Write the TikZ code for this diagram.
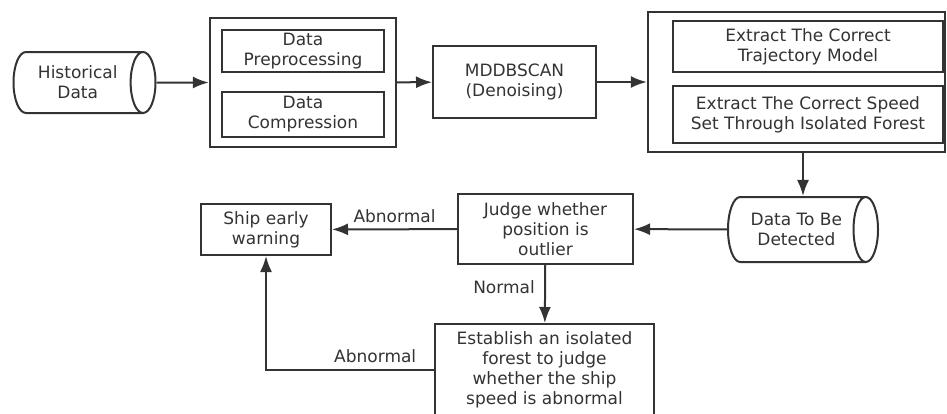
\documentclass[tikz,border=0pt]{standalone}
\usepackage{fontspec}
\setmainfont{DejaVu Sans}
\usetikzlibrary{shapes.geometric,arrows.meta}

\definecolor{inkgray}{HTML}{333333}
\tikzstyle{box}=[draw=inkgray,line width=2pt,align=center,text=inkgray,inner sep=0pt]
\tikzstyle{outer box}=[draw=inkgray,line width=2.4pt,inner sep=0pt]
\tikzstyle{store}=[cylinder,anchor=shape center,draw=inkgray,line width=2pt,align=center,text=inkgray,aspect=0.75,inner sep=0pt]
\tikzstyle{edge}=[draw=inkgray,line width=2pt,-{Latex[length=16pt,width=12pt]}]
\tikzstyle{tag}=[text=inkgray]

\begin{document}
\begin{tikzpicture}[x=1pt,y=-1pt,font=\fontsize{17pt}{20pt}\selectfont]
\useasboundingbox[fill=white] (0,0) rectangle (947,413);
% the two grouping frames
\node[outer box,minimum width=186pt,minimum height=129pt] (prep) at (303,82.5) {};
\node[outer box,minimum width=297pt,minimum height=140pt] (ext) at (796.5,82) {};
% plain boxes
\foreach \pos/\name/\bw/\bh/\txt in {{(303,51)/pre/162/42/{Data\\Preprocessing}},
    {(303,114.5)/comp/162/45/{Data\\Compression}},
    {(514.5,82)/mdd/163/72/{MDDBSCAN\\(Denoising)}},
    {(808,46.5)/traj/270/51/{Extract The Correct\\Trajectory Model}},
    {(808,114.5)/speed/270/57/{Extract The Correct Speed\\Set Through Isolated Forest}},
    {(545.5,229)/judge/175/70/{Judge whether\\position is\\outlier}},
    {(266,229.5)/warn/130/51/{Ship early\\warning}},
    {(544.5,370)/est/219/92/{Establish an isolated\\forest to judge\\whether the ship\\speed is abnormal}}}{
  \node[box,minimum width=\bw pt,minimum height=\bh pt] (\name) at \pos {\txt};
}
% data stores
\node[store,minimum width=61pt,minimum height=142pt] (hist) at (84.5,82.5) {Historical\\Data};
\node[store,minimum width=65pt,minimum height=150pt] (det) at (803,229.5) {Data To Be\\Detected};
% connectors
\foreach \source/\dest in {hist/prep, prep/mdd, mdd/ext, det/judge}{
  \path[edge] (\source) -- (\dest);
}
\path[edge] (det.shape center |- ext.south) -- (det.shape center |- det.north);
\path[edge] (judge) -- node[tag,above=2pt,pos=0.5] {Abnormal} (warn);
\path[edge] (judge) -- node[tag,left=6pt,pos=0.38] {Normal} (est);
\path[edge] (est.west) -| node[tag,above=3pt,pos=0.175] {Abnormal} (warn.south);
\end{tikzpicture}
\end{document}
